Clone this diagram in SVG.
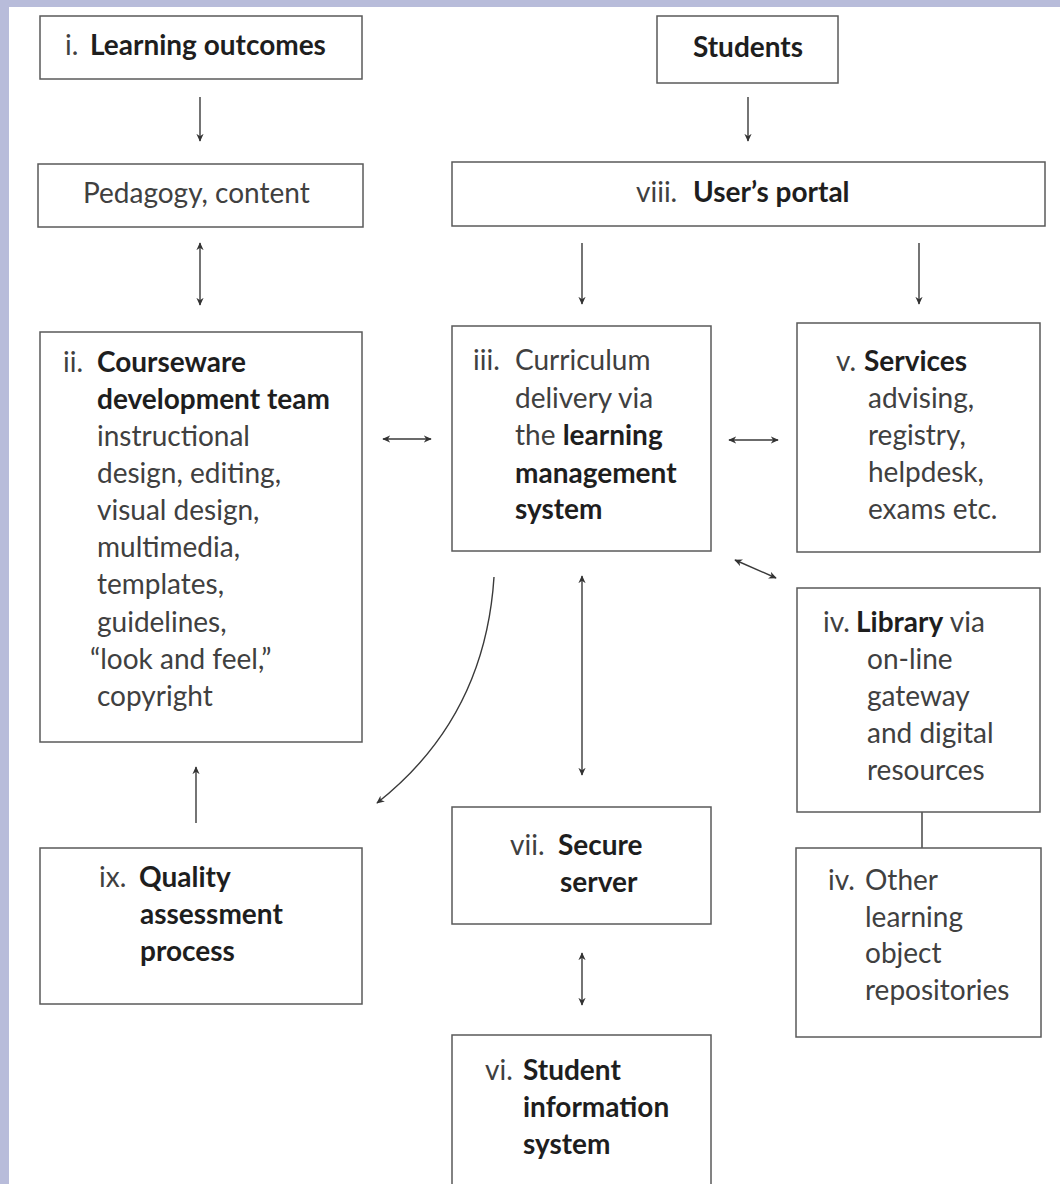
<svg xmlns="http://www.w3.org/2000/svg" width="1060" height="1184" viewBox="0 0 1060 1184">
<defs>
<style>
.box{fill:#fff;stroke:#5a5a5a;stroke-width:1.5}
.t{font-family:Lato,"Open Sans","Liberation Sans",sans-serif;font-size:28px;fill:#404040}
.b{font-weight:bold;fill:#1e1e1e}
.c{fill:none;stroke:#3a3a3a;stroke-width:1.4}
.a{marker-end:url(#ah)}
.aa{marker-start:url(#ah);marker-end:url(#ah)}
</style>
<marker id="ah" viewBox="0 0 10 10" refX="9" refY="5" markerWidth="8" markerHeight="8" markerUnits="userSpaceOnUse" orient="auto-start-reverse">
<path d="M0,0.5 L10,5 L0,9.5 L3,5 Z" fill="#333"/>
</marker>
</defs>
<rect x="0" y="0" width="1060" height="1184" fill="#fff"/>
<rect x="0" y="0" width="1060" height="7" fill="#b8bcda"/>
<rect x="0" y="0" width="9" height="1184" fill="#b8bcda"/>

<g id="connectors">
<line class="c a" x1="200" y1="97" x2="200" y2="141"/>
<line class="c a" x1="748" y1="97" x2="748" y2="141"/>
<line class="c aa" x1="200" y1="243" x2="200" y2="305"/>
<line class="c a" x1="582" y1="243" x2="582" y2="304"/>
<line class="c a" x1="919" y1="243" x2="919" y2="304"/>
<line class="c aa" x1="383" y1="439" x2="431" y2="439"/>
<line class="c aa" x1="729" y1="440" x2="778" y2="440"/>
<line class="c aa" x1="735" y1="560" x2="776" y2="578"/>
<line class="c aa" x1="582" y1="576" x2="582" y2="775"/>
<path class="c a" d="M494,577 Q485,718 377,803"/>
<line class="c a" x1="196" y1="823" x2="196" y2="767"/>
<line class="c aa" x1="582" y1="953" x2="582" y2="1005"/>
<line class="c" x1="922" y1="812" x2="922" y2="848"/>
</g>

<g id="n-outcomes">
<rect class="box" x="40" y="16" width="322" height="63"/>
<text class="t" x="65" y="55">i. <tspan class="b" x="90">Learning outcomes</tspan></text>
</g>
<g id="n-pedagogy">
<rect class="box" x="38" y="164" width="325" height="63"/>
<text class="t" x="83" y="203">Pedagogy, content</text>
</g>
<g id="n-students">
<rect class="box" x="657" y="16" width="181" height="67"/>
<text class="t b" x="748" y="57" text-anchor="middle">Students</text>
</g>
<g id="n-portal">
<rect class="box" x="452" y="162" width="593" height="64"/>
<text class="t" x="636" y="202">viii. <tspan class="b" x="693">User’s portal</tspan></text>
</g>
<g id="n-courseware">
<rect class="box" x="40" y="332" width="322" height="410"/>
<text class="t" x="63" y="372">ii. <tspan class="b" x="97">Courseware</tspan></text>
<text class="t b" x="97" y="409">development team</text>
<text class="t" x="97" y="446">instructional</text>
<text class="t" x="97" y="483">design, editing,</text>
<text class="t" x="97" y="520">visual design,</text>
<text class="t" x="97" y="557">multimedia,</text>
<text class="t" x="97" y="594">templates,</text>
<text class="t" x="97" y="632">guidelines,</text>
<text class="t" x="90" y="669">“look and feel,”</text>
<text class="t" x="97" y="706">copyright</text>
</g>
<g id="n-lms">
<rect class="box" x="452" y="326" width="259" height="225"/>
<text class="t" x="473" y="370">iii. <tspan x="515">Curriculum</tspan></text>
<text class="t" x="515" y="408">delivery via</text>
<text class="t" x="515" y="445">the <tspan class="b">learning</tspan></text>
<text class="t b" x="515" y="483">management</text>
<text class="t b" x="515" y="519">system</text>
</g>
<g id="n-services">
<rect class="box" x="797" y="323" width="243" height="229"/>
<text class="t" x="836" y="371">v. <tspan class="b" x="864">Services</tspan></text>
<text class="t" x="868" y="408">advising,</text>
<text class="t" x="868" y="445">registry,</text>
<text class="t" x="868" y="482">helpdesk,</text>
<text class="t" x="868" y="519">exams etc.</text>
</g>
<g id="n-library">
<rect class="box" x="797" y="588" width="243" height="224"/>
<text class="t" x="823" y="632">iv. <tspan class="b" x="856">Library</tspan> via</text>
<text class="t" x="867" y="669">on-line</text>
<text class="t" x="867" y="706">gateway</text>
<text class="t" x="867" y="743">and digital</text>
<text class="t" x="867" y="780">resources</text>
</g>
<g id="n-other">
<rect class="box" x="796" y="848" width="245" height="189"/>
<text class="t" x="828" y="890">iv. <tspan x="865">Other</tspan></text>
<text class="t" x="865" y="927">learning</text>
<text class="t" x="865" y="963">object</text>
<text class="t" x="865" y="1000">repositories</text>
</g>
<g id="n-secure">
<rect class="box" x="452" y="807" width="259" height="117"/>
<text class="t" x="510" y="855">vii. <tspan class="b" x="558">Secure</tspan></text>
<text class="t b" x="560" y="892">server</text>
</g>
<g id="n-quality">
<rect class="box" x="40" y="848" width="322" height="156"/>
<text class="t" x="99" y="887">ix. <tspan class="b" x="139">Quality</tspan></text>
<text class="t b" x="140" y="924">assessment</text>
<text class="t b" x="140" y="961">process</text>
</g>
<g id="n-sis">
<rect class="box" x="452" y="1035" width="259" height="160"/>
<text class="t" x="485" y="1080">vi. <tspan class="b" x="523">Student</tspan></text>
<text class="t b" x="523" y="1117">information</text>
<text class="t b" x="523" y="1154">system</text>
</g>
</svg>
